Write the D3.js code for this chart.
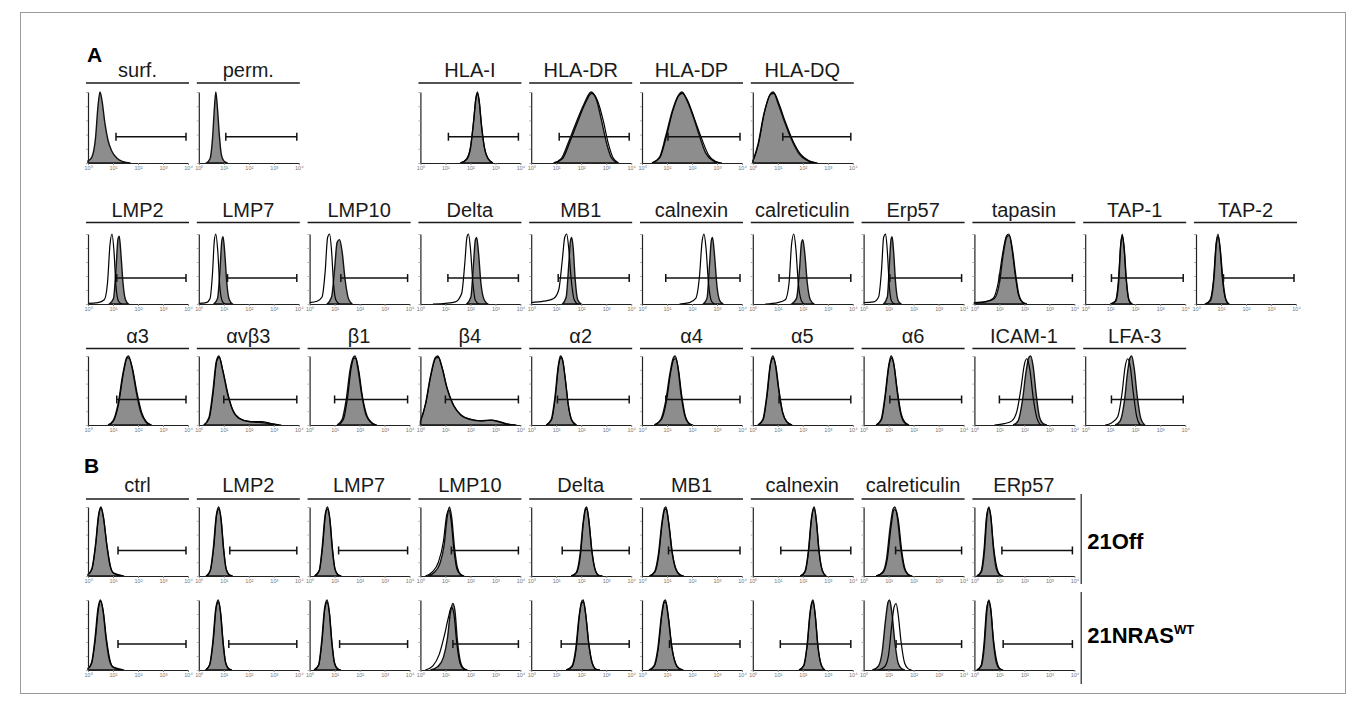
<!DOCTYPE html>
<html>
<head>
<meta charset="utf-8">
<script src="https://cdn.jsdelivr.net/npm/d3@7"></script>
<style>
  body { margin: 0; background: #fff; }
  svg { display: block; }
</style>
</head>
<body>
<div id="fig"></div>
<script>
// histogram points are [log decade, relative count]

// ---- panel A, row 1
var rowA1Labels = ["surf.", "perm.", "HLA-I", "HLA-DR", "HLA-DP", "HLA-DQ"];
var rowA1Stained = [
  [[0,0.03],[0.15,0.08],[0.3,0.35],[0.4,0.8],[0.48,1],[0.56,0.88],[0.68,0.55],[0.8,0.32],[0.95,0.17],[1.15,0.07],[1.4,0.02],[1.7,0]],
  [[0.3,0],[0.45,0.06],[0.55,0.35],[0.62,0.75],[0.68,1],[0.74,0.8],[0.82,0.4],[0.9,0.12],[1.0,0.03],[1.15,0]],
  [[1.6,0],[1.85,0.05],[2.0,0.2],[2.12,0.55],[2.22,0.9],[2.28,1],[2.35,0.88],[2.45,0.5],[2.57,0.2],[2.7,0.06],[2.9,0]],
  [[0.9,0],[1.2,0.06],[1.5,0.3],[1.8,0.57],[2.1,0.82],[2.4,1],[2.6,0.9],[2.8,0.62],[3.0,0.3],[3.2,0.08],[3.45,0]],
  [[0.4,0],[0.7,0.08],[0.95,0.38],[1.2,0.72],[1.45,0.95],[1.6,1],[1.8,0.88],[2.05,0.65],[2.3,0.38],[2.55,0.14],[2.85,0.03],[3.1,0]],
  [[0,0.02],[0.2,0.25],[0.45,0.7],[0.7,0.97],[0.82,1],[1.0,0.85],[1.25,0.6],[1.55,0.33],[1.85,0.13],[2.15,0.04],[2.5,0]]
];
var rowA1Control = [
  null,
  null,
  [[1.6,0],[1.85,0.06],[2.0,0.22],[2.13,0.6],[2.22,0.92],[2.27,0.98],[2.34,0.9],[2.44,0.55],[2.56,0.22],[2.7,0.07],[2.9,0]],
  [[0.9,0],[1.25,0.06],[1.55,0.3],[1.85,0.57],[2.15,0.83],[2.42,0.98],[2.65,0.88],[2.88,0.6],[3.08,0.28],[3.28,0.07],[3.5,0]],
  [[0.4,0],[0.72,0.08],[0.98,0.38],[1.22,0.72],[1.47,0.95],[1.62,0.98],[1.85,0.86],[2.1,0.62],[2.38,0.35],[2.65,0.12],[2.95,0.02],[3.2,0]],
  [[0,0.02],[0.22,0.26],[0.47,0.72],[0.72,0.97],[0.85,0.98],[1.05,0.83],[1.3,0.58],[1.62,0.3],[1.92,0.12],[2.25,0.03],[2.6,0]]
];
var rowA1Gate = [1.12, 1.08, 1.12, 1.12, 1.04, 1.2];

// ---- panel A, row 2
var rowA2Labels = ["LMP2", "LMP7", "LMP10", "Delta", "MB1", "calnexin", "calreticulin", "Erp57", "tapasin", "TAP-1", "TAP-2"];
var rowA2Stained = [
  [[0.85,0],[1.02,0.08],[1.12,0.5],[1.2,0.93],[1.25,0.97],[1.32,0.7],[1.4,0.3],[1.5,0.06],[1.62,0]],
  [[0.6,0],[0.75,0.08],[0.85,0.5],[0.92,0.9],[0.97,0.96],[1.04,0.72],[1.12,0.3],[1.22,0.06],[1.35,0]],
  [[0.7,0],[0.88,0.1],[1.0,0.5],[1.1,0.88],[1.2,0.92],[1.3,0.75],[1.42,0.35],[1.55,0.08],[1.7,0]],
  [[1.85,0],[2.02,0.1],[2.12,0.55],[2.2,0.92],[2.25,0.95],[2.32,0.75],[2.42,0.3],[2.55,0.06],[2.7,0]],
  [[1.25,0],[1.4,0.1],[1.5,0.55],[1.57,0.9],[1.62,0.95],[1.68,0.8],[1.76,0.35],[1.86,0.06],[2.0,0]],
  [[2.45,0],[2.6,0.08],[2.7,0.55],[2.77,0.9],[2.82,0.95],[2.9,0.7],[3.0,0.25],[3.12,0.04],[3.25,0]],
  [[1.55,0],[1.75,0.08],[1.87,0.5],[1.95,0.88],[2.0,0.92],[2.08,0.72],[2.18,0.3],[2.3,0.06],[2.45,0]],
  [[0.8,0],[0.95,0.1],[1.03,0.55],[1.1,0.93],[1.14,0.96],[1.2,0.75],[1.28,0.3],[1.38,0.05],[1.5,0]],
  [[0,0.02],[0.45,0.03],[0.8,0.08],[1.0,0.3],[1.15,0.7],[1.3,0.96],[1.4,0.98],[1.52,0.78],[1.65,0.42],[1.78,0.13],[1.92,0.03],[2.1,0]],
  [[1.02,0],[1.22,0.04],[1.34,0.32],[1.43,0.88],[1.49,0.97],[1.56,0.8],[1.65,0.33],[1.76,0.05],[1.88,0]],
  [[0.38,0],[0.58,0.05],[0.72,0.37],[0.82,0.88],[0.89,0.97],[0.97,0.78],[1.08,0.33],[1.2,0.06],[1.32,0]]
];
var rowA2Control = [
  [[0,0.01],[0.4,0.02],[0.65,0.06],[0.78,0.3],[0.88,0.85],[0.96,1],[1.04,0.75],[1.12,0.25],[1.22,0.04],[1.35,0]],
  [[0,0.01],[0.3,0.02],[0.45,0.08],[0.55,0.45],[0.62,0.9],[0.68,1],[0.76,0.75],[0.84,0.25],[0.94,0.04],[1.05,0]],
  [[0,0.02],[0.3,0.04],[0.5,0.1],[0.62,0.45],[0.72,0.95],[0.8,1],[0.88,0.75],[0.96,0.28],[1.06,0.05],[1.2,0]],
  [[0.5,0],[1.0,0.01],[1.4,0.03],[1.65,0.15],[1.78,0.6],[1.86,0.95],[1.92,1],[2.0,0.8],[2.1,0.3],[2.2,0.05],[2.35,0]],
  [[0,0.02],[0.5,0.04],[0.9,0.08],[1.1,0.2],[1.25,0.65],[1.34,0.95],[1.42,1],[1.5,0.8],[1.6,0.35],[1.72,0.06],[1.85,0]],
  [[1.5,0],[1.9,0.02],[2.15,0.08],[2.3,0.4],[2.4,0.88],[2.48,1],[2.56,0.8],[2.66,0.3],[2.78,0.04],[2.9,0]],
  [[0.5,0],[1.0,0.02],[1.3,0.06],[1.45,0.3],[1.55,0.85],[1.64,1],[1.72,0.8],[1.82,0.3],[1.94,0.05],[2.05,0]],
  [[0,0.02],[0.4,0.03],[0.6,0.1],[0.72,0.5],[0.8,0.95],[0.88,1],[0.95,0.75],[1.03,0.25],[1.12,0.04],[1.25,0]],
  [[0,0.02],[0.4,0.03],[0.75,0.08],[0.95,0.3],[1.12,0.7],[1.28,0.97],[1.38,1],[1.5,0.8],[1.62,0.45],[1.75,0.15],[1.9,0.03],[2.05,0]],
  [[1.0,0],[1.2,0.04],[1.32,0.3],[1.42,0.85],[1.48,1],[1.55,0.82],[1.64,0.35],[1.74,0.06],[1.85,0]],
  [[0.35,0],[0.55,0.05],[0.7,0.35],[0.8,0.85],[0.88,1],[0.96,0.8],[1.06,0.35],[1.18,0.07],[1.3,0]]
];
var rowA2Gate = [1.15, 1.15, 1.25, 1.1, 1.08, 0.95, 1.05, 1.05, 1.0, 1.05, 1.1];

// ---- panel A, row 3
var rowA3Labels = ["\u03b13", "\u03b1v\u03b23", "\u03b21", "\u03b24", "\u03b12", "\u03b14", "\u03b15", "\u03b16", "ICAM-1", "LFA-3"];
var rowA3Stained = [
  [[0.8,0],[1.0,0.06],[1.2,0.3],[1.4,0.75],[1.55,0.98],[1.62,1],[1.75,0.85],[1.92,0.5],[2.1,0.2],[2.3,0.05],[2.5,0]],
  [[0.2,0],[0.4,0.1],[0.55,0.45],[0.7,0.92],[0.8,1],[0.95,0.8],[1.15,0.45],[1.35,0.22],[1.6,0.1],[2.0,0.05],[2.4,0.04],[2.8,0.02],[3.2,0]],
  [[1.1,0],[1.3,0.08],[1.47,0.38],[1.62,0.8],[1.75,0.98],[1.82,1],[1.93,0.82],[2.08,0.45],[2.25,0.15],[2.45,0.04],[2.65,0]],
  [[0,0.05],[0.2,0.3],[0.4,0.7],[0.6,0.98],[0.7,1],[0.85,0.85],[1.05,0.55],[1.3,0.3],[1.6,0.15],[2.0,0.08],[2.4,0.06],[2.8,0.07],[3.1,0.05],[3.5,0.01],[3.8,0]],
  [[0.6,0],[0.8,0.08],[0.95,0.4],[1.08,0.85],[1.17,1],[1.25,0.95],[1.35,0.7],[1.48,0.3],[1.62,0.07],[1.8,0]],
  [[0.5,0],[0.75,0.08],[0.95,0.35],[1.12,0.75],[1.25,0.97],[1.33,1],[1.43,0.85],[1.56,0.45],[1.7,0.15],[1.85,0.03],[2.0,0]],
  [[0.2,0],[0.4,0.08],[0.55,0.4],[0.7,0.88],[0.8,1],[0.9,0.88],[1.02,0.55],[1.18,0.2],[1.35,0.05],[1.55,0]],
  [[0.5,0],[0.7,0.08],[0.85,0.4],[1.0,0.85],[1.1,1],[1.2,0.9],[1.32,0.55],[1.46,0.2],[1.6,0.05],[1.78,0]],
  [[1.55,0],[1.75,0.06],[1.92,0.35],[2.07,0.78],[2.18,0.98],[2.25,1],[2.35,0.85],[2.47,0.45],[2.6,0.12],[2.75,0.02],[2.9,0]],
  [[1.2,0],[1.4,0.06],[1.57,0.35],[1.7,0.78],[1.8,0.98],[1.86,1],[1.96,0.82],[2.08,0.42],[2.22,0.1],[2.38,0]]
];
var rowA3Control = [
  [[0.82,0],[1.02,0.06],[1.22,0.3],[1.42,0.76],[1.57,0.97],[1.64,0.97],[1.78,0.82],[1.96,0.47],[2.15,0.18],[2.35,0.04],[2.55,0]],
  [[0.22,0],[0.42,0.1],[0.57,0.45],[0.72,0.93],[0.82,0.98],[0.97,0.78],[1.18,0.43],[1.38,0.2],[1.65,0.09],[2.05,0.05],[2.5,0.05],[2.9,0.02],[3.3,0]],
  [[1.15,0],[1.35,0.08],[1.52,0.4],[1.66,0.82],[1.78,0.97],[1.86,0.96],[1.97,0.78],[2.12,0.4],[2.3,0.13],[2.5,0.03],[2.7,0]],
  [[0,0.05],[0.22,0.32],[0.42,0.72],[0.62,0.97],[0.72,0.98],[0.88,0.82],[1.08,0.52],[1.34,0.28],[1.65,0.14],[2.05,0.08],[2.45,0.06],[2.85,0.07],[3.15,0.05],[3.55,0.01],[3.85,0]],
  [[0.62,0],[0.82,0.08],[0.97,0.42],[1.1,0.87],[1.2,0.98],[1.28,0.9],[1.38,0.62],[1.5,0.25],[1.65,0.05],[1.82,0]],
  [[0.5,0],[0.78,0.08],[0.98,0.35],[1.15,0.77],[1.27,0.95],[1.36,0.96],[1.46,0.8],[1.6,0.4],[1.74,0.12],[1.9,0.02],[2.05,0]],
  [[0.22,0],[0.42,0.08],[0.57,0.42],[0.72,0.9],[0.82,0.97],[0.93,0.84],[1.05,0.5],[1.2,0.17],[1.38,0.04],[1.58,0]],
  [[0.52,0],[0.72,0.08],[0.87,0.42],[1.02,0.87],[1.12,0.97],[1.22,0.86],[1.35,0.5],[1.5,0.17],[1.65,0.04],[1.82,0]],
  [[0.8,0],[1.2,0.02],[1.5,0.06],[1.7,0.2],[1.87,0.55],[2.0,0.88],[2.1,0.96],[2.22,0.8],[2.35,0.4],[2.5,0.1],[2.65,0]],
  [[0.8,0],[1.05,0.03],[1.3,0.12],[1.47,0.45],[1.6,0.85],[1.7,0.96],[1.8,0.85],[1.93,0.45],[2.06,0.12],[2.2,0]]
];
var rowA3Gate = [1.15, 1.0, 1.0, 1.0, 1.05, 0.95, 1.05, 1.05, 1.0, 1.05];

// ---- panel B, both cell lines share the titles
var rowBLabels = ["ctrl", "LMP2", "LMP7", "LMP10", "Delta", "MB1", "calnexin", "calreticulin", "ERp57"];
var rowB1Stained = [
  [[0,0.02],[0.15,0.1],[0.3,0.45],[0.42,0.88],[0.52,1],[0.62,0.85],[0.75,0.45],[0.88,0.15],[1.0,0.05],[1.2,0.02],[1.4,0]],
  [[0.3,0],[0.45,0.07],[0.58,0.4],[0.7,0.88],[0.8,1],[0.88,0.85],[0.98,0.42],[1.08,0.12],[1.2,0.02],[1.35,0]],
  [[0.2,0],[0.38,0.07],[0.5,0.4],[0.62,0.88],[0.72,1],[0.8,0.85],[0.9,0.42],[1.0,0.12],[1.12,0.02],[1.25,0]],
  [[0.3,0],[0.55,0.05],[0.78,0.18],[0.95,0.45],[1.07,0.85],[1.16,1],[1.25,0.85],[1.36,0.42],[1.48,0.12],[1.62,0.02],[1.75,0]],
  [[1.6,0],[1.8,0.05],[1.95,0.3],[2.08,0.78],[2.17,0.98],[2.22,1],[2.3,0.82],[2.42,0.38],[2.55,0.1],[2.7,0.01],[2.85,0]],
  [[0.3,0],[0.5,0.06],[0.65,0.3],[0.8,0.78],[0.9,0.98],[0.96,1],[1.06,0.78],[1.2,0.35],[1.35,0.1],[1.5,0.02],[1.65,0]],
  [[1.9,0],[2.08,0.06],[2.22,0.35],[2.34,0.82],[2.42,0.98],[2.46,1],[2.54,0.8],[2.65,0.35],[2.78,0.08],[2.92,0]],
  [[0.5,0],[0.75,0.05],[0.92,0.25],[1.06,0.7],[1.18,0.97],[1.25,1],[1.35,0.85],[1.48,0.42],[1.62,0.12],[1.78,0.02],[1.92,0]],
  [[0.1,0],[0.28,0.06],[0.4,0.35],[0.5,0.85],[0.58,1],[0.66,0.85],[0.76,0.4],[0.88,0.1],[1.0,0.02],[1.12,0]]
];
var rowB1Control = [
  [[0,0.02],[0.16,0.1],[0.31,0.46],[0.43,0.88],[0.52,0.98],[0.62,0.84],[0.76,0.44],[0.9,0.14],[1.02,0.04],[1.25,0.01],[1.45,0]],
  [[0.3,0],[0.46,0.08],[0.6,0.42],[0.72,0.9],[0.8,0.97],[0.9,0.8],[1.0,0.38],[1.1,0.1],[1.22,0.02],[1.35,0]],
  [[0.2,0],[0.39,0.08],[0.52,0.42],[0.64,0.9],[0.72,0.97],[0.82,0.8],[0.92,0.38],[1.02,0.1],[1.14,0.02],[1.28,0]],
  [[0.2,0],[0.48,0.06],[0.72,0.2],[0.92,0.5],[1.05,0.88],[1.14,0.96],[1.23,0.8],[1.34,0.38],[1.46,0.1],[1.6,0.02],[1.72,0]],
  [[1.6,0],[1.82,0.05],[1.97,0.3],[2.09,0.78],[2.17,0.96],[2.23,0.97],[2.31,0.8],[2.43,0.36],[2.56,0.09],[2.7,0.01],[2.85,0]],
  [[0.3,0],[0.52,0.06],[0.67,0.3],[0.82,0.8],[0.92,0.97],[0.98,0.96],[1.08,0.75],[1.22,0.32],[1.37,0.09],[1.52,0.02],[1.68,0]],
  [[1.9,0],[2.09,0.06],[2.23,0.36],[2.35,0.83],[2.42,0.96],[2.47,0.96],[2.55,0.78],[2.66,0.33],[2.79,0.07],[2.93,0]],
  [[0.5,0],[0.78,0.05],[0.95,0.25],[1.1,0.72],[1.22,0.96],[1.3,0.95],[1.4,0.78],[1.52,0.38],[1.66,0.1],[1.8,0.02],[1.95,0]],
  [[0.1,0],[0.26,0.06],[0.38,0.36],[0.48,0.85],[0.56,0.98],[0.65,0.88],[0.76,0.45],[0.9,0.12],[1.02,0.02],[1.15,0]]
];
var rowB1Gate = [1.2, 1.24, 1.16, 1.24, 1.24, 1.06, 1.12, 1.28, 1.1];

var rowB2Stained = [
  [[0,0.02],[0.14,0.1],[0.28,0.45],[0.4,0.88],[0.5,1],[0.6,0.85],[0.72,0.45],[0.85,0.15],[0.98,0.05],[1.2,0.02],[1.4,0]],
  [[0.28,0],[0.43,0.07],[0.56,0.4],[0.68,0.88],[0.78,1],[0.86,0.85],[0.96,0.42],[1.06,0.12],[1.18,0.02],[1.32,0]],
  [[0.18,0],[0.36,0.07],[0.48,0.4],[0.6,0.88],[0.7,1],[0.78,0.85],[0.88,0.42],[0.98,0.12],[1.1,0.02],[1.22,0]],
  [[0.4,0],[0.7,0.05],[0.92,0.18],[1.08,0.45],[1.2,0.82],[1.3,0.95],[1.38,0.85],[1.48,0.42],[1.6,0.12],[1.74,0.02],[1.88,0]],
  [[1.4,0],[1.62,0.05],[1.78,0.3],[1.92,0.78],[2.02,0.98],[2.08,1],[2.17,0.82],[2.3,0.38],[2.44,0.1],[2.6,0.01],[2.75,0]],
  [[0.28,0],[0.48,0.06],[0.63,0.3],[0.78,0.78],[0.88,0.98],[0.94,1],[1.04,0.78],[1.18,0.35],[1.33,0.1],[1.48,0.02],[1.63,0]],
  [[1.85,0],[2.03,0.06],[2.17,0.35],[2.29,0.82],[2.37,0.98],[2.41,1],[2.49,0.8],[2.6,0.35],[2.73,0.08],[2.87,0]],
  [[0.35,0],[0.58,0.05],[0.74,0.25],[0.88,0.72],[0.98,0.97],[1.04,1],[1.13,0.82],[1.25,0.4],[1.38,0.1],[1.52,0.02],[1.65,0]],
  [[0.1,0],[0.28,0.06],[0.4,0.35],[0.5,0.85],[0.58,1],[0.66,0.85],[0.76,0.4],[0.88,0.1],[1.0,0.02],[1.12,0]]
];
var rowB2Control = [
  [[0,0.02],[0.15,0.1],[0.3,0.46],[0.42,0.88],[0.51,0.98],[0.61,0.84],[0.74,0.44],[0.88,0.14],[1.0,0.04],[1.25,0.01],[1.45,0]],
  [[0.28,0],[0.44,0.08],[0.58,0.42],[0.7,0.9],[0.78,0.97],[0.88,0.8],[0.98,0.38],[1.08,0.1],[1.2,0.02],[1.33,0]],
  [[0.18,0],[0.37,0.08],[0.5,0.42],[0.62,0.9],[0.7,0.97],[0.8,0.8],[0.9,0.38],[1.0,0.1],[1.12,0.02],[1.26,0]],
  [[0.2,0],[0.5,0.06],[0.75,0.22],[0.95,0.48],[1.12,0.75],[1.24,0.9],[1.34,0.8],[1.45,0.4],[1.58,0.1],[1.72,0.02],[1.85,0]],
  [[1.4,0],[1.64,0.05],[1.8,0.3],[1.93,0.78],[2.02,0.96],[2.09,0.97],[2.18,0.8],[2.31,0.36],[2.45,0.09],[2.6,0.01],[2.75,0]],
  [[0.28,0],[0.5,0.06],[0.65,0.3],[0.8,0.8],[0.9,0.97],[0.96,0.96],[1.06,0.75],[1.2,0.32],[1.35,0.09],[1.5,0.02],[1.66,0]],
  [[1.85,0],[2.04,0.06],[2.18,0.36],[2.3,0.83],[2.37,0.96],[2.42,0.96],[2.5,0.78],[2.61,0.33],[2.74,0.07],[2.88,0]],
  [[0.6,0],[0.85,0.05],[1.0,0.22],[1.12,0.62],[1.22,0.9],[1.3,0.95],[1.38,0.8],[1.5,0.4],[1.64,0.1],[1.78,0.02],[1.92,0]],
  [[0.1,0],[0.26,0.06],[0.38,0.36],[0.48,0.85],[0.56,0.98],[0.65,0.88],[0.76,0.45],[0.9,0.12],[1.02,0.02],[1.15,0]]
];
var rowB2Gate = [1.2, 1.2, 1.2, 1.3, 1.2, 1.1, 1.1, 1.3, 1.15];

var tickDecades = [0, 1, 2, 3, 4];
var supDigits = ["\u2070", "\u00b9", "\u00b2", "\u00b3", "\u2074"];
var cellLines = ["21Off", "21NRAS"];

// ---- layout
var width = 1366, height = 705;
var colX0 = 86, colStep = 110.8, panelW = 103;
var gateEnd = 3.92;
var font = "'Liberation Sans', Arial, Helvetica, sans-serif";

var svg = d3.select("#fig").append("svg")
    .attr("width", width)
    .attr("height", height);

// thin frame round the figure
svg.append("rect")
    .attr("x", 20.5).attr("y", 12.5)
    .attr("width", 1325).attr("height", 681)
    .attr("fill", "none")
    .attr("stroke", "#9a9a9a")
    .attr("stroke-width", 1);

function drawPanel(col, title, stained, control, gateFrom, row) {
  var px = colX0 + col * colStep;
  var g = svg.append("g");

  var x = d3.scaleLinear().domain([0, 4]).range([px + 2, px + 102]);
  var y = d3.scaleLinear().domain([0, 1]).range([row.bottom, row.top + 2]);

  if (title !== null) {
    g.append("text")
      .attr("x", px + panelW / 2)
      .attr("y", row.titleY)
      .attr("text-anchor", "middle")
      .style("font-family", font)
      .style("font-size", "20px")
      .attr("fill", "#1a1a1a")
      .text(title);
    g.append("line")
      .attr("x1", px).attr("x2", px + panelW)
      .attr("y1", row.lineY).attr("y2", row.lineY)
      .attr("stroke", "#1a1a1a")
      .attr("stroke-width", 1.6);
  }

  // filled histogram for the stained sample
  var area = d3.area()
      .x(function(d) { return x(d[0]); })
      .y0(row.bottom)
      .y1(function(d) { return y(d[1]); })
      .curve(d3.curveMonotoneX);
  g.append("path")
    .datum(stained)
    .attr("d", area)
    .attr("fill", "#8d8d8d")
    .attr("stroke", "#111")
    .attr("stroke-width", 1.4);

  // open outline for the isotype control
  if (control) {
    var line = d3.line()
        .x(function(d) { return x(d[0]); })
        .y(function(d) { return y(d[1]); })
        .curve(d3.curveMonotoneX);
    g.append("path")
      .datum(control)
      .attr("d", line)
      .attr("fill", "none")
      .attr("stroke", "#000")
      .attr("stroke-width", 1.2);
  }

  // axes
  var xAxis = d3.axisBottom(x)
      .tickValues(tickDecades)
      .tickSize(2)
      .tickSizeOuter(0)
      .tickPadding(1)
      .tickFormat(function(d) { return "10" + supDigits[d]; });
  var ax = g.append("g")
      .attr("transform", "translate(0," + row.bottom + ")")
      .call(xAxis);
  ax.select(".domain").attr("stroke", "#222").attr("stroke-width", 1.2);
  ax.selectAll(".tick line").attr("stroke", "#888");
  ax.selectAll("text")
    .style("font-family", font)
    .style("font-size", "5.5px")
    .attr("fill", "#777");

  var yAxis = d3.axisLeft(y).ticks(4).tickSize(2).tickSizeOuter(0).tickFormat("");
  var ay = g.append("g")
      .attr("transform", "translate(" + (px + 2) + ",0)")
      .call(yAxis);
  ay.select(".domain").attr("stroke", "#222").attr("stroke-width", 1.2);
  ay.selectAll(".tick line").attr("stroke", "#aaa");

  // gate marker
  var gy = row.top + 0.64 * (row.bottom - row.top);
  var gx1 = x(gateFrom), gx2 = x(gateEnd);
  g.append("line")
    .attr("x1", gx1).attr("x2", gx2).attr("y1", gy).attr("y2", gy)
    .attr("stroke", "#111").attr("stroke-width", 1.5);
  [gx1, gx2].forEach(function(cx) {
    g.append("line")
      .attr("x1", cx).attr("x2", cx).attr("y1", gy - 4).attr("y2", gy + 4)
      .attr("stroke", "#111").attr("stroke-width", 1.5);
  });
}

var rows = [
  {titles: rowA1Labels, cols: [0, 1, 3, 4, 5, 6], stained: rowA1Stained, control: rowA1Control, gate: rowA1Gate,
   titleY: 77, lineY: 83, top: 90, bottom: 163},
  {titles: rowA2Labels, cols: d3.range(11), stained: rowA2Stained, control: rowA2Control, gate: rowA2Gate,
   titleY: 217, lineY: 222.5, top: 232, bottom: 304},
  {titles: rowA3Labels, cols: d3.range(10), stained: rowA3Stained, control: rowA3Control, gate: rowA3Gate,
   titleY: 343, lineY: 348.5, top: 354, bottom: 425},
  {titles: rowBLabels, cols: d3.range(9), stained: rowB1Stained, control: rowB1Control, gate: rowB1Gate,
   titleY: 492, lineY: 499, top: 505, bottom: 576},
  {titles: null, cols: d3.range(9), stained: rowB2Stained, control: rowB2Control, gate: rowB2Gate,
   titleY: 0, lineY: 0, top: 598, bottom: 670}
];

rows.forEach(function(row) {
  row.cols.forEach(function(c, i) {
    drawPanel(c, row.titles ? row.titles[i] : null, row.stained[i], row.control[i], row.gate[i], row);
  });
});

// panel letters
svg.append("text").attr("x", 87).attr("y", 62)
  .style("font-family", font).style("font-size", "21px").style("font-weight", "bold")
  .text("A");
svg.append("text").attr("x", 84).attr("y", 473)
  .style("font-family", font).style("font-size", "21px").style("font-weight", "bold")
  .text("B");

// cell line brackets on the right of panel B
var bx = colX0 + 9 * colStep - 2;
[[494, 584], [592, 684]].forEach(function(s) {
  svg.append("line").attr("x1", bx).attr("x2", bx).attr("y1", s[0]).attr("y2", s[1])
    .attr("stroke", "#222").attr("stroke-width", 1.2);
});
svg.append("text").attr("x", bx + 6).attr("y", 549)
  .style("font-family", font).style("font-size", "22px").style("font-weight", "bold")
  .text(cellLines[0]);
var t2 = svg.append("text").attr("x", bx + 6).attr("y", 643)
  .style("font-family", font).style("font-size", "22px").style("font-weight", "bold");
t2.append("tspan").text(cellLines[1]);
t2.append("tspan").attr("dy", -9).style("font-size", "13px").text("WT");
</script>
</body>
</html>
